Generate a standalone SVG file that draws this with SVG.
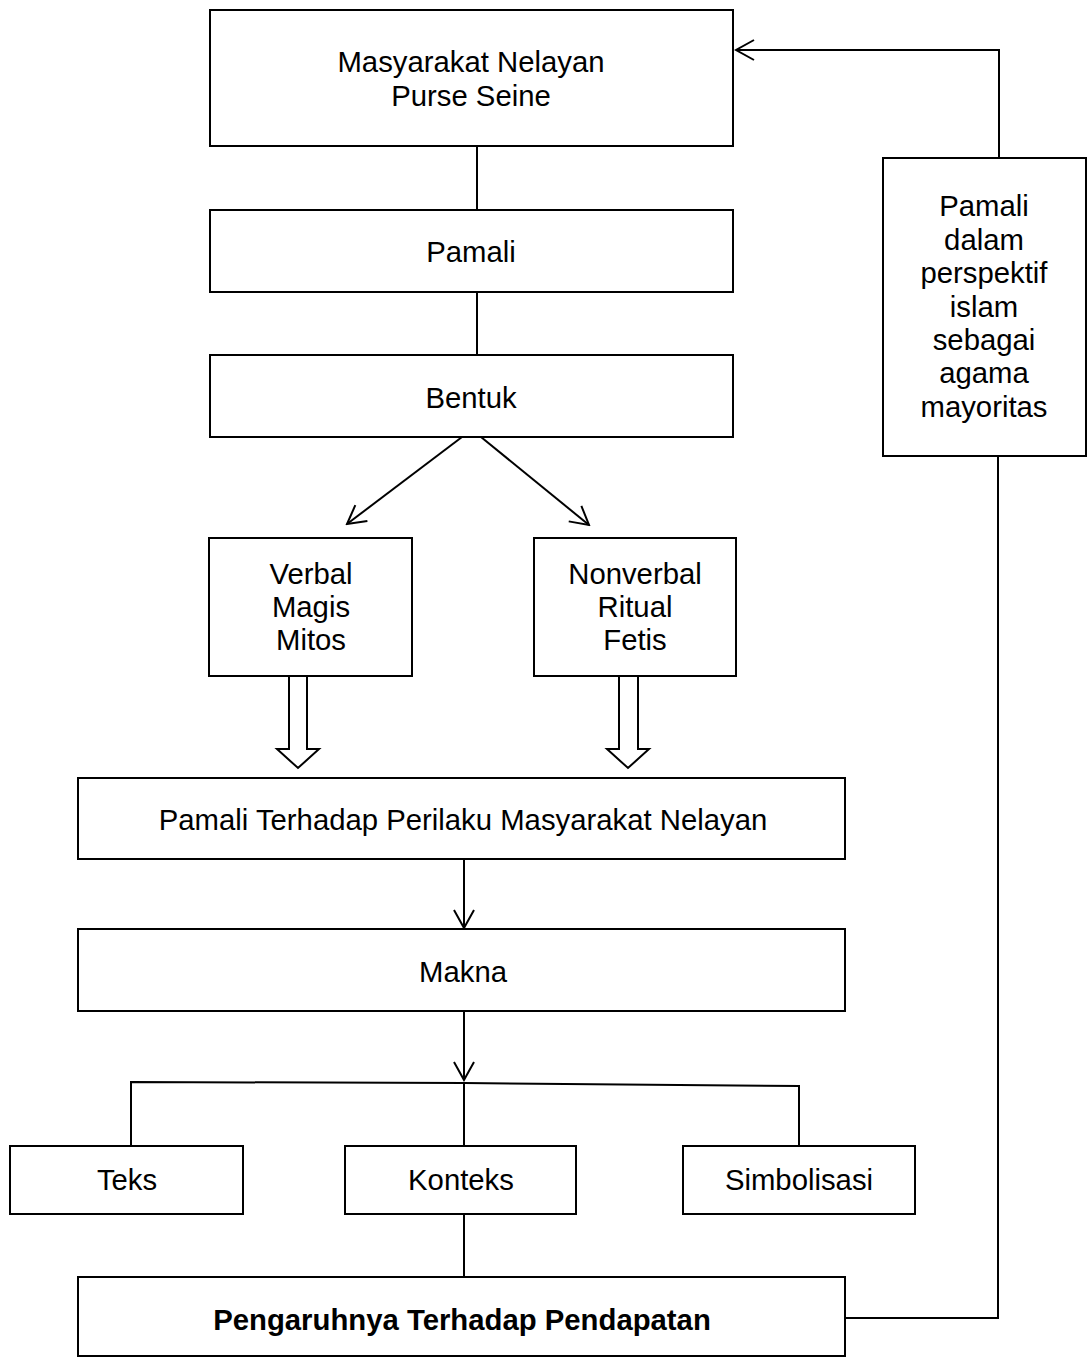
<svg xmlns="http://www.w3.org/2000/svg" width="1089" height="1360" viewBox="0 0 1089 1360">
<style>
.box{fill:#fff;stroke:#000;stroke-width:2}
.ln{fill:none;stroke:#000;stroke-width:2}
.t{font-family:"Liberation Sans",Arial,sans-serif;font-size:29.3px;text-anchor:middle;fill:#000}
.b{font-weight:bold}
</style>
<defs>
<marker id="v" markerUnits="userSpaceOnUse" viewBox="-20 -12 22 24" refX="0" refY="0" markerWidth="22" markerHeight="24" orient="auto">
<path d="M-18,-10 L0,0 L-18,10" fill="none" stroke="#000" stroke-width="2"/>
</marker>
</defs>
<rect x="0" y="0" width="1089" height="1360" fill="#fff"/>
<g id="connectors">
<line class="ln" x1="477" y1="146" x2="477" y2="210"/>
<line class="ln" x1="477" y1="292" x2="477" y2="355"/>
<line class="ln" x1="462" y1="437" x2="347" y2="524" marker-end="url(#v)"/>
<line class="ln" x1="481" y1="437" x2="589" y2="525" marker-end="url(#v)"/>
<polygon class="box" points="289,676 307,676 307,749 319,749 298,768 277,749 289,749"/>
<polygon class="box" points="619,676 638,676 638,749 649,749 628,768 607,749 619,749"/>
<line class="ln" x1="464" y1="859" x2="464" y2="928" marker-end="url(#v)"/>
<line class="ln" x1="464" y1="1011" x2="464" y2="1080" marker-end="url(#v)"/>
<polyline class="ln" points="131,1146 131,1082 464,1083 799,1086 799,1146"/>
<line class="ln" x1="464" y1="1083" x2="464" y2="1146"/>
<line class="ln" x1="464" y1="1214" x2="464" y2="1277"/>
<polyline class="ln" points="845,1318 998,1318 998,456"/>
<polyline class="ln" points="999,158 999,50 736,50" marker-end="url(#v)"/>
</g>
<g id="n1"><rect class="box" x="210" y="10" width="523" height="136"/>
<text class="t" x="471" y="72">Masyarakat Nelayan</text><text class="t" x="471" y="106">Purse Seine</text></g>
<g id="n2"><rect class="box" x="210" y="210" width="523" height="82"/>
<text class="t" x="471" y="262">Pamali</text></g>
<g id="n3"><rect class="box" x="210" y="355" width="523" height="82"/>
<text class="t" x="471" y="408">Bentuk</text></g>
<g id="n4"><rect class="box" x="209" y="538" width="203" height="138"/>
<text class="t" x="311" y="584">Verbal</text><text class="t" x="311" y="617">Magis</text><text class="t" x="311" y="650">Mitos</text></g>
<g id="n5"><rect class="box" x="534" y="538" width="202" height="138"/>
<text class="t" x="635" y="584">Nonverbal</text><text class="t" x="635" y="617">Ritual</text><text class="t" x="635" y="650">Fetis</text></g>
<g id="n6"><rect class="box" x="78" y="778" width="767" height="81"/>
<text class="t" x="463" y="830">Pamali Terhadap Perilaku Masyarakat Nelayan</text></g>
<g id="n7"><rect class="box" x="78" y="929" width="767" height="82"/>
<text class="t" x="463" y="982">Makna</text></g>
<g id="n8"><rect class="box" x="10" y="1146" width="233" height="68"/>
<text class="t" x="127" y="1190">Teks</text></g>
<g id="n9"><rect class="box" x="345" y="1146" width="231" height="68"/>
<text class="t" x="461" y="1190">Konteks</text></g>
<g id="n10"><rect class="box" x="683" y="1146" width="232" height="68"/>
<text class="t" x="799" y="1190">Simbolisasi</text></g>
<g id="n11"><rect class="box" x="78" y="1277" width="767" height="79"/>
<text class="t b" x="462" y="1330">Pengaruhnya Terhadap Pendapatan</text></g>
<g id="n12"><rect class="box" x="883" y="158" width="203" height="298"/>
<text class="t" x="984" y="216">Pamali</text><text class="t" x="984" y="250">dalam</text><text class="t" x="984" y="283">perspektif</text><text class="t" x="984" y="317">islam</text><text class="t" x="984" y="350">sebagai</text><text class="t" x="984" y="383">agama</text><text class="t" x="984" y="417">mayoritas</text></g>
</svg>
